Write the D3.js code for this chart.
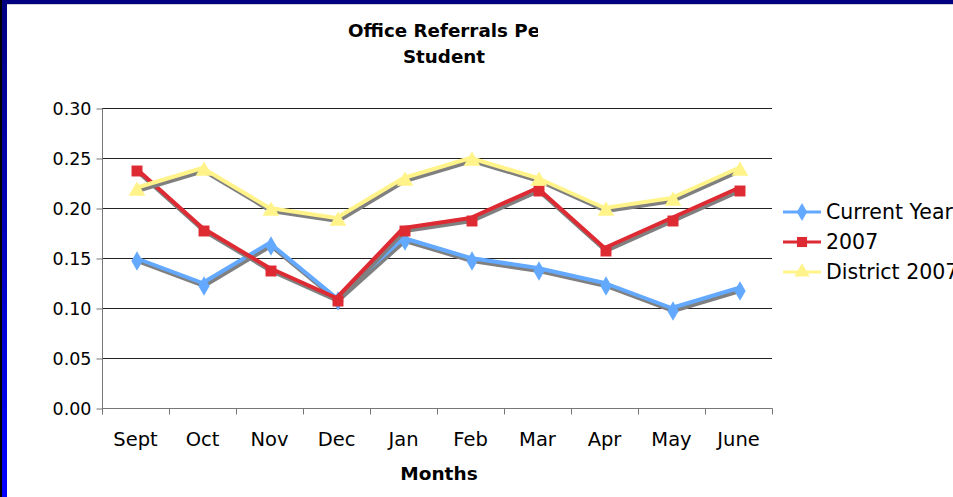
<!DOCTYPE html>
<html>
<head>
<meta charset="utf-8">
<script src="https://cdn.jsdelivr.net/npm/d3@7"></script>
<style>
  body { margin: 0; background: #fff; overflow: hidden; }
  svg { display: block; font-family: "DejaVu Sans", Verdana, sans-serif; }
</style>
</head>
<body>
<div id="chart"></div>
<script>
// data
const months = ["Sept", "Oct", "Nov", "Dec", "Jan", "Feb", "Mar", "Apr", "May", "June"];
const currentYear = [0.15, 0.125, 0.165, 0.11, 0.17, 0.15, 0.14, 0.125, 0.10, 0.12];
const year2007 = [0.24, 0.18, 0.14, 0.11, 0.18, 0.19, 0.22, 0.16, 0.19, 0.22];
const district2007 = [0.22, 0.24, 0.20, 0.19, 0.23, 0.25, 0.23, 0.20, 0.21, 0.24];
const seriesNames = ["Current Year", "2007", "District 2007"];
const yTicks = [0, 0.05, 0.10, 0.15, 0.20, 0.25, 0.30];

const width = 953, height = 497;
const plot = { left: 102, right: 772, top: 108, bottom: 408 };

const series = [
  { name: seriesNames[0], values: currentYear, color: "#63a9ff", shape: d3.symbolDiamond, size: 110 },
  { name: seriesNames[1], values: year2007, color: "#de2a32", shape: d3.symbolSquare, size: 120 },
  { name: seriesNames[2], values: district2007, color: "#fff38a", shape: d3.symbolTriangle, size: 120 }
];

const svg = d3.select("#chart").append("svg")
  .attr("width", width)
  .attr("height", height);

// border (navy on top, gradient down the left side)
const defs = svg.append("defs");
const grad = defs.append("linearGradient").attr("id", "leftGrad")
  .attr("x1", 0).attr("y1", 0).attr("x2", 0).attr("y2", 1);
grad.append("stop").attr("offset", "0%").attr("stop-color", "#000080");
grad.append("stop").attr("offset", "100%").attr("stop-color", "#0000ff");
defs.append("clipPath").attr("id", "titleClip")
  .append("rect").attr("x", 0).attr("y", 0).attr("width", 538).attr("height", 50);

svg.append("rect").attr("x", 0).attr("y", 0).attr("width", width).attr("height", height).attr("fill", "#fff");
svg.append("rect").attr("x", 0).attr("y", 0).attr("width", width).attr("height", 4).attr("fill", "#000080");
svg.append("line").attr("x1", 0).attr("x2", width).attr("y1", 4.5).attr("y2", 4.5).attr("stroke", "#d0d0d0");
svg.append("rect").attr("x", 0).attr("y", 0).attr("width", 7).attr("height", height).attr("fill", "url(#leftGrad)");
svg.append("rect").attr("x", 0).attr("y", 0).attr("width", 2).attr("height", height).attr("fill", "#000");

const x = d3.scaleBand().domain(months).range([plot.left, plot.right]);
const y = d3.scaleLinear().domain([0, 0.30]).range([plot.bottom, plot.top]);

// gridlines
svg.append("g").selectAll("line")
  .data(yTicks.filter(d => d > 0))
  .join("line")
  .attr("x1", plot.left).attr("x2", plot.right)
  .attr("y1", d => Math.round(y(d)) + 0.5).attr("y2", d => Math.round(y(d)) + 0.5)
  .attr("stroke", "#222").attr("stroke-width", 1);

// y axis
const yAxis = svg.append("g")
  .attr("transform", `translate(${plot.left + 0.5},0.5)`)
  .call(d3.axisLeft(y).tickValues(yTicks).tickFormat(d3.format(".2f")).tickSize(6).tickPadding(5));
yAxis.select(".domain").attr("stroke", "#777").attr("d", `M0,${plot.top}V${plot.bottom + 6}`);
yAxis.selectAll(".tick line").attr("stroke", "#777");
yAxis.selectAll("text").attr("font-size", 17.5).attr("fill", "#000").attr("font-family", "DejaVu Sans");

// x axis: ticks on the band edges
const xAxis = svg.append("g").attr("transform", `translate(0,${plot.bottom + 0.5})`);
xAxis.append("line").attr("x1", plot.left).attr("x2", plot.right + 0.5)
  .attr("stroke", "#777");
xAxis.selectAll("line.tk")
  .data(d3.range(months.length + 1))
  .join("line").attr("class", "tk")
  .attr("x1", i => Math.round(plot.left + i * x.bandwidth()) + 0.5)
  .attr("x2", i => Math.round(plot.left + i * x.bandwidth()) + 0.5)
  .attr("y1", 0).attr("y2", 6)
  .attr("stroke", "#777");
xAxis.selectAll("text")
  .data(months)
  .join("text")
  .attr("x", d => x(d) + x.bandwidth() / 2)
  .attr("y", 37)
  .attr("text-anchor", "middle")
  .attr("font-size", 19.5)
  .text(d => d);

// series: shadows then lines and markers
const line = d3.line()
  .x((d, i) => x(months[i]) + x.bandwidth() / 2)
  .y(d => y(d));

series.forEach(s => {
  const g = svg.append("g");
  const sh = g.append("g").attr("transform", "translate(1.5,3)");
  sh.append("path").attr("d", line(s.values))
    .attr("fill", "none").attr("stroke", "#808080").attr("stroke-width", 4)
    .attr("stroke-linejoin", "round");
  sh.selectAll("path.m").data(s.values).join("path").attr("class", "m")
    .attr("transform", (d, i) => `translate(${x(months[i]) + x.bandwidth() / 2},${y(d)})`)
    .attr("d", d3.symbol(s.shape, s.size)).attr("fill", "#808080");
  g.append("path").attr("d", line(s.values))
    .attr("fill", "none").attr("stroke", s.color).attr("stroke-width", 4)
    .attr("stroke-linejoin", "round");
  g.selectAll("path.m").data(s.values).join("path").attr("class", "m")
    .attr("transform", (d, i) => `translate(${x(months[i]) + x.bandwidth() / 2},${y(d)})`)
    .attr("d", d3.symbol(s.shape, s.size)).attr("fill", s.color);
});

// title (clipped like the original)
const title = svg.append("g").attr("clip-path", "url(#titleClip)");
title.append("text").attr("x", 348).attr("y", 37)
  .attr("font-size", 18.3).attr("font-weight", "bold").text("Office Referrals Pe");
svg.append("text").attr("x", 444).attr("y", 63).attr("text-anchor", "middle")
  .attr("font-size", 18.3).attr("font-weight", "bold").text("Student");

// x axis title
svg.append("text").attr("x", 439).attr("y", 480)
  .attr("text-anchor", "middle").attr("font-size", 18.5).attr("font-weight", "bold").text("Months");

// legend
const legend = svg.append("g").attr("transform", "translate(783,212)");
series.forEach((s, i) => {
  const row = legend.append("g").attr("transform", `translate(0,${i * 30})`);
  row.append("line").attr("x1", 0).attr("x2", 38).attr("stroke", s.color).attr("stroke-width", 3);
  row.append("path").attr("transform", "translate(19,0)")
    .attr("d", d3.symbol(s.shape, s.size * 0.85)).attr("fill", s.color);
  row.append("text").attr("x", 43).attr("y", 7).attr("font-size", 20.5).text(s.name);
});
</script>
</body>
</html>
